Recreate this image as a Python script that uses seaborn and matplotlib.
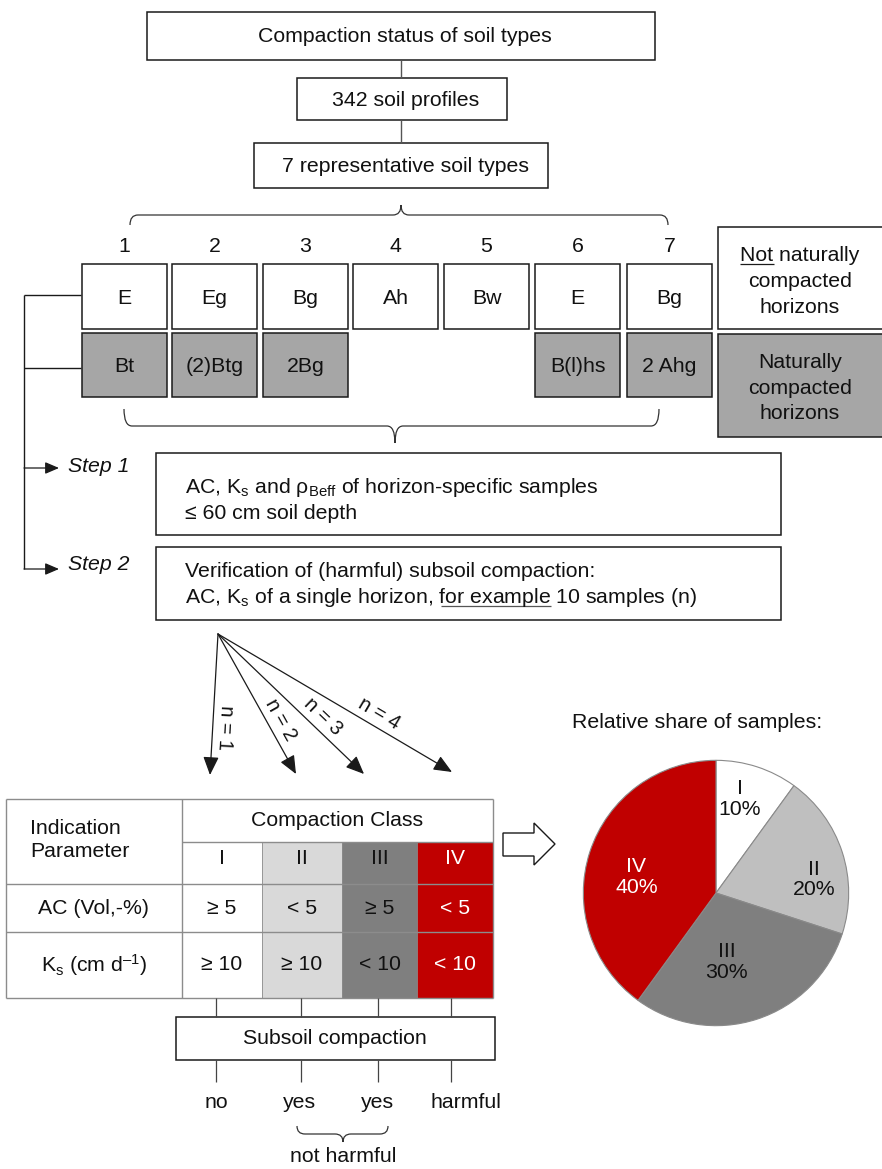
import numpy as np
import seaborn as sns
import matplotlib.pyplot as plt
from matplotlib.patches import Rectangle, Polygon, PathPatch
from matplotlib.path import Path

# chart content
flow_boxes = ["Compaction status of soil types", "342 soil profiles", "7 representative soil types"]
soil_types = [1, 2, 3, 4, 5, 6, 7]
upper_horizons = ["E", "Eg", "Bg", "Ah", "Bw", "E", "Bg"]
lower_horizons = ["Bt", "(2)Btg", "2Bg", "", "", "B(l)hs", "2 Ahg"]
classes = ["I", "II", "III", "IV"]
ac_limits = ["≥ 5", "< 5", "≥ 5", "< 5"]
ks_limits = ["≥ 10", "≥ 10", "< 10", "< 10"]
outcomes = ["no", "yes", "yes", "harmful"]
n_samples = [1, 2, 3, 4]
shares = [10, 20, 30, 40]

sns.set_style("white")
plt.rcParams['font.family'] = ['Liberation Sans', 'DejaVu Sans']
plt.rcParams['text.color'] = '#111111'
plt.rcParams['mathtext.fontset'] = 'custom'
plt.rcParams['mathtext.rm'] = 'Liberation Sans'
plt.rcParams['mathtext.it'] = 'Liberation Sans:italic'
plt.rcParams['mathtext.default'] = 'regular'

FS = 15.3
EDGE = '#1a1a1a'
GREY = '#a6a6a6'
table_fill = sns.color_palette(['#ffffff', '#d9d9d9', '#7f7f7f', '#c00000'])
pie_fill = sns.color_palette(['#ffffff', '#bfbfbf', '#7f7f7f', '#c00000'])

fig = plt.figure(figsize=(8.82, 11.69), dpi=100)
ax = fig.add_axes([0, 0, 1, 1])
ax.set_xlim(0, 882)
ax.set_ylim(1169, 0)
ax.axis('off')


def box(x0, x1, y0, y1, fc='white', ec=EDGE, lw=1.1):
    ax.add_patch(Rectangle((x0, y0), x1 - x0, y1 - y0, facecolor=fc, edgecolor=ec, lw=lw))


def line(xs, ys, color=EDGE, lw=1.0):
    ax.plot(xs, ys, color=color, lw=lw, solid_capstyle='butt')


def brace(x0, x1, xc, y, h, r=8, tips_down=True):
    s = 1 if tips_down else -1
    verts = [(x0, y + s * h), (x0, y), (x0 + r, y), (xc - r, y), (xc, y), (xc, y - s * h),
             (xc, y - s * h), (xc, y), (xc + r, y), (x1 - r, y), (x1, y), (x1, y + s * h)]
    codes = [Path.MOVETO, Path.CURVE3, Path.CURVE3, Path.LINETO, Path.CURVE3, Path.CURVE3,
             Path.MOVETO, Path.CURVE3, Path.CURVE3, Path.LINETO, Path.CURVE3, Path.CURVE3]
    ax.add_patch(PathPatch(Path(verts, codes), facecolor='none', edgecolor='#333333', lw=0.9))


def text_width(s, **kw):
    t = ax.text(0, 0, s, fontsize=FS, **kw)
    w = t.get_window_extent(fig.canvas.get_renderer()).width
    t.remove()
    return w


def arrow(p0, p1, ms=14):
    ax.annotate("", xy=p1, xytext=p0,
                arrowprops=dict(arrowstyle="-|>,head_length=0.7,head_width=0.3",
                                color=EDGE, lw=0.9, shrinkA=0, shrinkB=0, mutation_scale=ms))


# top flow
flow_geom = [(147, 655, 12, 60), (297, 507, 78, 120), (254, 548, 143, 188)]
for label, (x0, x1, y0, y1) in zip(flow_boxes, flow_geom):
    box(x0, x1, y0, y1)
    ax.text((x0 + x1) / 2 + 4, (y0 + y1) / 2 + 1, label, fontsize=FS, ha='center', va='center')
line([401, 401], [60, 78], color='#555555')
line([401, 401], [120, 143], color='#555555')
brace(130, 668, 401, 215, 10)

# soil type columns
col_x0 = [82, 172, 263, 353, 444, 535, 627]
col_w = 85
for i, (num, up, low) in enumerate(zip(soil_types, upper_horizons, lower_horizons)):
    x0 = col_x0[i]
    xc = x0 + col_w / 2
    ax.text(xc, 246, str(num), fontsize=FS, ha='center', va='center')
    box(x0, x0 + col_w, 264, 329)
    ax.text(xc, 298, up, fontsize=FS, ha='center', va='center')
    if low:
        box(x0, x0 + col_w, 333, 397, fc=GREY)
        ax.text(xc, 366, low, fontsize=FS, ha='center', va='center')

# legend boxes
box(718, 890, 227, 329)
box(718, 890, 334, 437, fc=GREY)
leg_xc = 800
w_full = text_width("Not naturally")
w_not = text_width("Not")
ax.text(leg_xc, 261, "Not naturally", fontsize=FS, ha='center', va='baseline')
ux = leg_xc - w_full / 2
line([ux, ux + w_not], [264, 264], lw=0.9)
ax.text(leg_xc, 287, "compacted", fontsize=FS, ha='center', va='baseline')
ax.text(leg_xc, 313, "horizons", fontsize=FS, ha='center', va='baseline')
for yb, s in zip([368, 394, 419], ["Naturally", "compacted", "horizons"]):
    ax.text(leg_xc, yb, s, fontsize=FS, ha='center', va='baseline')

# bracket to steps
brace(124, 659, 395, 426, 17, tips_down=False)
line([24, 24], [295, 569])
line([24, 81], [295, 295])
line([24, 81], [368, 368])
arrow((24, 468), (59, 468), ms=12)
arrow((24, 569), (59, 569), ms=12)
ax.text(68, 467, "Step 1", fontsize=FS, style='italic', ha='left', va='center')
ax.text(68, 565, "Step 2", fontsize=FS, style='italic', ha='left', va='center')

# step boxes
box(156, 781, 453, 535)
ax.text(185, 493, "AC, K$_{s}$ and ρ$_{Beff}$ of horizon-specific samples", fontsize=FS, ha='left', va='baseline')
ax.text(185, 519, "≤ 60 cm soil depth", fontsize=FS, ha='left', va='baseline')
box(156, 781, 547, 620)
ax.text(185, 577, "Verification of (harmful) subsoil compaction:", fontsize=FS, ha='left', va='baseline')
pre = "AC, K$_{s}$ of a single horizon, "
ax.text(185, 603, pre + "for example 10 samples (n)", fontsize=FS, ha='left', va='baseline')
u0 = 185 + text_width(pre + "f") - text_width("f")
u1 = 185 + text_width(pre + "for example")
line([u0, u1], [606, 606], color='#555555', lw=0.9)

# fan of arrows
origin = np.array([218, 634])
ends = [(210, 775), (296, 774), (364, 774), (452, 772)]
for n, end in zip(n_samples, ends):
    end = np.array(end)
    arrow(tuple(origin), tuple(end), ms=16)
    d = end - origin
    L = np.hypot(*d)
    normal = np.array([d[1], -d[0]]) / L
    pos = origin + 0.66 * d + 13 * normal
    ang = np.degrees(np.arctan2(-d[1], d[0]))
    ax.text(pos[0], pos[1], f"n = {n}", fontsize=FS - 1, ha='center', va='center',
            rotation=ang, rotation_mode='anchor')

# table
tcol = [182, 262, 342, 417, 493]
TL = '#8c8c8c'
for i, c in enumerate(classes):
    ax.add_patch(Rectangle((tcol[i], 842), tcol[i + 1] - tcol[i], 998 - 842,
                           facecolor=table_fill[i], edgecolor='none'))
line([6, 493], [799, 799], color=TL)
line([182, 493], [842, 842], color=TL)
line([6, 493], [884, 884], color=TL)
line([6, 493], [932, 932], color=TL)
line([6, 493], [998, 998], color=TL)
line([6, 6], [799, 998], color=TL)
line([182, 182], [799, 998], color=TL)
line([493, 493], [799, 998], color=TL)
for x in tcol[1:-1]:
    line([x, x], [842, 998], color=TL, lw=0.6)
ax.text(30, 840, "Indication\nParameter", fontsize=FS, ha='left', va='center', linespacing=1.3)
ax.text((182 + 493) / 2, 820, "Compaction Class", fontsize=FS, ha='center', va='center')
ax.text(94, 908, "AC (Vol,-%)", fontsize=FS, ha='center', va='center')
ax.text(94, 965, "K$_{s}$ (cm d$^{–1}$)", fontsize=FS, ha='center', va='center')
for i, c in enumerate(classes):
    xc = (tcol[i] + tcol[i + 1]) / 2
    tc = 'white' if i == 3 else '#111111'
    ax.text(xc, 859, c, fontsize=FS, ha='center', va='center', color=tc)
    ax.text(xc, 909, ac_limits[i], fontsize=FS, ha='center', va='center', color=tc)
    ax.text(xc, 965, ks_limits[i], fontsize=FS, ha='center', va='center', color=tc)

# hollow arrow to pie
ax.add_patch(Polygon([(503, 833), (534, 833), (534, 823), (555, 844), (534, 865), (534, 856), (503, 856)],
                     closed=True, facecolor='white', edgecolor=EDGE, lw=1.0))

# subsoil compaction
out_x = [216, 301, 378, 451]
label_x = [216, 299, 377, 466]
for x in out_x:
    line([x, x], [998, 1017], color='#444444', lw=0.9)
    line([x, x], [1060, 1082], color='#444444', lw=0.9)
box(176, 495, 1017, 1060)
ax.text(335, 1039, "Subsoil compaction", fontsize=FS, ha='center', va='center')
for x, s in zip(label_x, outcomes):
    ax.text(x, 1103, s, fontsize=FS, ha='center', va='center')
brace(297, 388, 343, 1134, 8, tips_down=False)
ax.text(343, 1157, "not harmful", fontsize=FS, ha='center', va='center')

# pie
ax.text(572, 722, "Relative share of samples:", fontsize=FS, ha='left', va='center')
pax = fig.add_axes([582 / 882, 1 - 1027 / 1169, 268 / 882, 268 / 1169])
pax.pie(shares, colors=pie_fill, startangle=90, counterclock=False, radius=1,
        wedgeprops=dict(edgecolor='#8a8a8a', linewidth=0.8))
pax.set_xlim(-1.01, 1.01)
pax.set_ylim(-1.01, 1.01)
pax.set_aspect('equal')
pax.axis('off')
label_pos = [(0.18, 0.71), (0.74, 0.10), (0.08, -0.52), (-0.60, 0.12)]
for (px, py), c, v, i in zip(label_pos, classes, shares, range(4)):
    pax.text(px, py, f"{c}\n{v}%", fontsize=FS, ha='center', va='center',
             color='white' if i == 3 else '#111111', linespacing=1.1)

fig.savefig("out.png", dpi=100)
